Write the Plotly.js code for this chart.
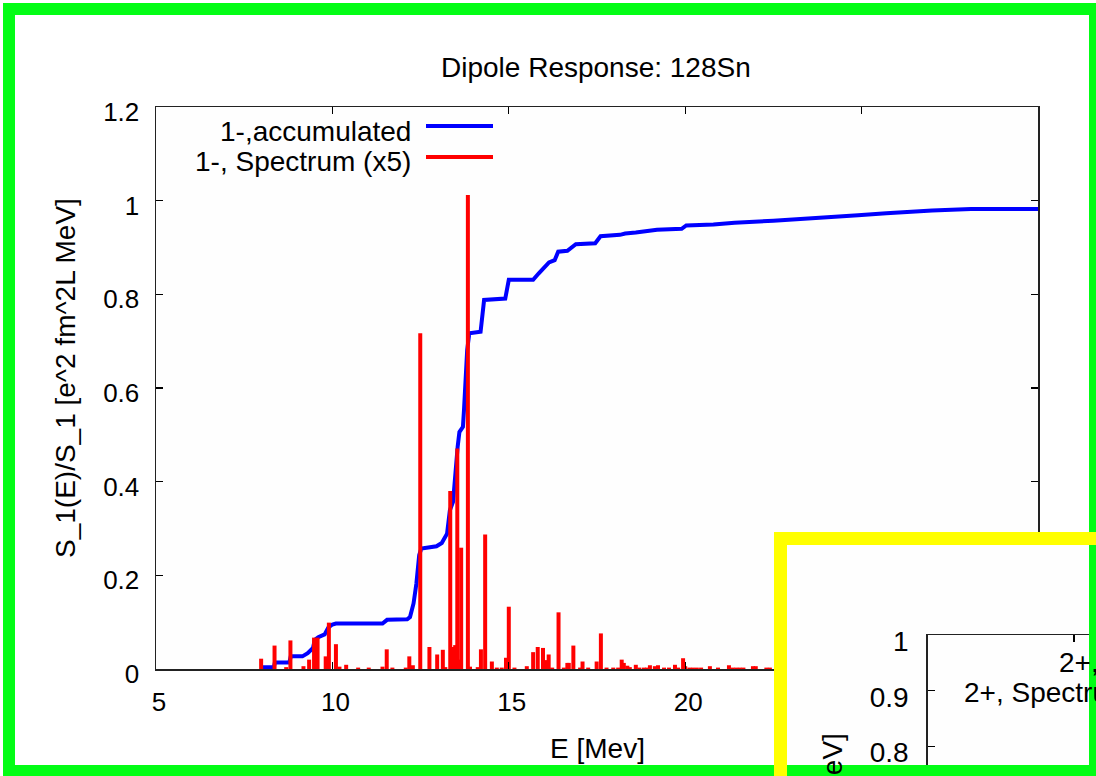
<!DOCTYPE html>
<html>
<head>
<meta charset="utf-8">
<script src="https://cdn.plot.ly/plotly-3.0.1.min.js"></script>
<style>html,body{margin:0;padding:0;background:#fff;overflow:hidden}</style>
</head>
<body>
<div id="chart" style="width:1096px;height:776px"></div>
<script>
// ---- data ----
const chartTitle = 'Dipole Response: 128Sn';
const xTitle = 'E [Mev]';
const yTitle = 'S_1(E)/S_1 [e^2 fm^2L MeV]';
const seriesNames = ['1-,accumulated', '1-, Spectrum (x5)'];
const insetNames = ['2+,accumulated', '2+, Spectrum (x5)'];
const insetYTitle = 'S_2(E)/S_2 [e^2 fm^4L MeV]';

const xTicks = [5, 10, 15, 20, 25, 30];
const xTickText = ['5', '10', '15', '20', '', ''];   // 25 and 30 are hidden by the inset
const yTicks = [0, 0.2, 0.4, 0.6, 0.8, 1, 1.2];
const insetXTicks = [5, 10];
const insetYTicks = [0.8, 0.9, 1];

// red impulses: energy (MeV) and strength (x5)
const specE = [7.98, 8.36, 8.69, 8.81, 9.18, 9.34, 9.48, 9.58, 9.81, 9.90,
  10.10, 10.20, 10.39, 10.73, 11.03, 11.42, 11.54, 11.70, 12.08, 12.18,
  12.28, 12.49, 12.75, 12.97, 13.13, 13.20, 13.34, 13.43, 13.48, 13.54,
  13.60, 13.65, 13.84, 13.90, 14.12, 14.21, 14.33, 14.52, 14.66, 14.80,
  14.92, 15.00, 15.16, 15.51, 15.69, 15.82, 15.97, 16.05, 16.13, 16.23,
  16.41, 16.56, 16.66, 16.70, 16.83, 17.02, 17.09, 17.25, 17.49, 17.61,
  17.77, 17.96, 18.10, 18.20, 18.26, 18.36, 18.43, 18.60, 18.70, 18.83,
  18.92, 19.00, 19.14, 19.23, 19.40, 19.54, 19.71, 19.80, 19.94, 20.00,
  20.12, 20.22, 20.33, 20.45, 20.70, 20.93, 21.24, 21.35, 21.45, 21.55,
  21.65, 21.92, 22.00, 22.30, 22.40, 23.00, 23.80, 24.50, 25.60, 27.00];
const specS = [0.022, 0.050, 0.004, 0.061, 0.006, 0.020, 0.067, 0.067, 0.027, 0.099,
  0.053, 0.005, 0.009, 0.003, 0.003, 0.005, 0.042, 0.003, 0.003, 0.027,
  0.008, 0.717, 0.047, 0.031, 0.041, 0.004, 0.380, 0.047, 0.051, 0.471,
  0.020, 0.259, 1.012, 0.005, 0.004, 0.042, 0.287, 0.016, 0.003, 0.003,
  0.024, 0.133, 0.003, 0.006, 0.036, 0.047, 0.045, 0.019, 0.031, 0.003,
  0.121, 0.003, 0.013, 0.013, 0.050, 0.003, 0.016, 0.003, 0.016, 0.076,
  0.003, 0.003, 0.003, 0.020, 0.013, 0.007, 0.004, 0.009, 0.003, 0.003,
  0.003, 0.008, 0.006, 0.008, 0.003, 0.003, 0.009, 0.003, 0.023, 0.006,
  0.003, 0.003, 0.003, 0.003, 0.006, 0.003, 0.008, 0.003, 0.003, 0.003,
  0.003, 0.006, 0.006, 0.003, 0.003, 0.004, 0.003, 0.003, 0.003, 0.002];

// blue accumulated curve
const accE = [8.00, 8.34, 8.37, 8.78, 8.82, 9.15, 9.30, 9.45, 9.50, 9.60,
  9.78, 9.88, 10.00, 10.10, 11.42, 11.55, 12.12, 12.20, 12.30, 12.38,
  12.46, 12.52, 12.95, 13.10, 13.25, 13.33, 13.42, 13.48, 13.55, 13.60,
  13.70, 13.73, 13.78, 13.82, 13.88, 14.20, 14.30, 14.90, 15.00, 15.69,
  15.85, 16.00, 16.14, 16.30, 16.40, 16.66, 16.80, 16.90, 17.45, 17.60,
  18.15, 18.30, 18.60, 19.00, 19.20, 19.90, 20.03, 20.80, 21.40, 22.50,
  23.70, 24.90, 25.70, 26.20, 27.00, 28.10, 30.00];
const accS = [0.004, 0.004, 0.014, 0.014, 0.027, 0.027, 0.034, 0.045, 0.062, 0.068,
  0.074, 0.088, 0.095, 0.097, 0.097, 0.105, 0.106, 0.111, 0.140, 0.182,
  0.243, 0.257, 0.262, 0.269, 0.289, 0.339, 0.357, 0.417, 0.474, 0.506,
  0.517, 0.553, 0.617, 0.681, 0.717, 0.720, 0.788, 0.791, 0.831, 0.831,
  0.845, 0.856, 0.868, 0.873, 0.891, 0.893, 0.902, 0.907, 0.909, 0.924,
  0.927, 0.930, 0.932, 0.935, 0.938, 0.940, 0.947, 0.949, 0.953, 0.957,
  0.964, 0.969, 0.973, 0.976, 0.979, 0.982, 0.982];

// ---- build impulse path for the library ----
const impX = [], impY = [];
specE.forEach((e, i) => { impX.push(e, e, null); impY.push(0, specS[i], null); });

const W = 1096, H = 776;
const px = v => v / W;
const py = v => 1 - v / H;
const FONT = '"Liberation Sans", Arial, Helvetica, sans-serif';
const BLUE = '#0000ff', RED = '#ff0000';
const TXT = 28;

const traces = [
  {x: accE, y: accS, type: 'scatter', mode: 'lines', name: seriesNames[0],
   line: {color: BLUE, width: 4}, xaxis: 'x', yaxis: 'y', hoverinfo: 'skip'},
  {x: impX, y: impY, type: 'scatter', mode: 'lines', name: seriesNames[1],
   line: {color: RED, width: 4}, xaxis: 'x', yaxis: 'y', connectgaps: false, hoverinfo: 'skip'},
  {x: [], y: [], type: 'scatter', xaxis: 'x2', yaxis: 'y2'},
  {x: [], y: [], type: 'scatter', xaxis: 'x3', yaxis: 'y3'}
];

const axBase = {
  showgrid: false, zeroline: false, showline: true, linecolor: '#222', linewidth: 1.5,
  ticks: 'inside', ticklen: 7, tickwidth: 1.2, tickcolor: '#000',
  tickfont: {family: FONT, size: 26, color: '#000'}, fixedrange: true, automargin: false
};

const layout = {
  width: W, height: H,
  margin: {l: 0, r: 0, t: 0, b: 0},
  paper_bgcolor: '#ffffff', plot_bgcolor: '#fefefe',
  showlegend: false,
  font: {family: FONT, size: TXT, color: '#000'},
  xaxis: Object.assign({}, axBase, {
    domain: [px(156), px(1038)], range: [5, 30], tickvals: xTicks, ticktext: xTickText,
    mirror: 'ticks', anchor: 'y', ticklabelstandoff: 9, ticklabelshift: 3
  }),
  yaxis: Object.assign({}, axBase, {
    domain: [py(669), py(107)], range: [0, 1.2], tickvals: yTicks, mirror: 'ticks',
    anchor: 'x', ticklabelstandoff: 10, ticklabelshift: 5
  }),
  xaxis2: {domain: [px(787), 1], range: [0, 1], visible: false, anchor: 'y2', fixedrange: true},
  yaxis2: {domain: [0, py(545)], range: [0, 1], visible: false, anchor: 'x2', fixedrange: true},
  xaxis3: Object.assign({}, axBase, {
    domain: [px(927.7), 1], range: [5, 10.75], tickvals: insetXTicks, side: 'top',
    anchor: 'y3', showticklabels: false
  }),
  yaxis3: Object.assign({}, axBase, {
    domain: [0, py(635)], range: [0.7469, 1.0], tickvals: insetYTicks, anchor: 'x3',
    tickfont: {family: FONT, size: 28, color: '#000'}, ticklabelstandoff: 12, ticklabelshift: 6
  }),
  annotations: [
    {text: chartTitle, xref: 'paper', yref: 'paper', x: px(596), y: py(67),
     xanchor: 'center', yanchor: 'middle', showarrow: false, font: {size: TXT}},
    {text: xTitle, xref: 'paper', yref: 'paper', x: px(597), y: py(748),
     xanchor: 'center', yanchor: 'middle', showarrow: false, font: {size: TXT}},
    {text: yTitle, xref: 'paper', yref: 'paper', x: px(65), y: py(378), textangle: -90,
     xanchor: 'center', yanchor: 'middle', showarrow: false, font: {size: TXT}},
    {text: seriesNames[0], xref: 'paper', yref: 'paper', x: px(413), y: py(131),
     xanchor: 'right', yanchor: 'middle', showarrow: false, font: {size: TXT}},
    {text: seriesNames[1], xref: 'paper', yref: 'paper', x: px(413), y: py(161),
     xanchor: 'right', yanchor: 'middle', showarrow: false, font: {size: TXT}},
    {text: insetNames[0], xref: 'paper', yref: 'paper', x: px(1057), y: py(662),
     xanchor: 'left', yanchor: 'middle', showarrow: false, font: {size: 28}},
    {text: insetNames[1], xref: 'paper', yref: 'paper', x: px(962), y: py(692),
     xanchor: 'left', yanchor: 'middle', showarrow: false, font: {size: 28}},
    {text: insetYTitle, xref: 'paper', yref: 'paper', x: px(832), y: py(731), textangle: -90,
     xanchor: 'center', yanchor: 'top', showarrow: false, font: {size: 28}}
  ],
  shapes: [
    {type: 'line', xref: 'paper', yref: 'paper', x0: px(426), x1: px(493), y0: py(126), y1: py(126),
     line: {color: BLUE, width: 4}},
    {type: 'line', xref: 'paper', yref: 'paper', x0: px(426), x1: px(493), y0: py(157), y1: py(157),
     line: {color: RED, width: 4}},
    {type: 'rect', xref: 'paper', yref: 'paper', x0: px(9), x1: px(1095), y0: py(9), y1: py(771),
     line: {color: '#03fd15', width: 12}, fillcolor: 'rgba(0,0,0,0)', layer: 'above'},
    {type: 'rect', xref: 'paper', yref: 'paper', x0: px(780.5), x1: px(1250), y0: py(538.5), y1: py(950),
     line: {color: '#ffff00', width: 13}, fillcolor: 'rgba(0,0,0,0)', layer: 'above'}
  ]
};

Plotly.newPlot('chart', traces, layout, {staticPlot: true, displayModeBar: false});
</script>
</body>
</html>
